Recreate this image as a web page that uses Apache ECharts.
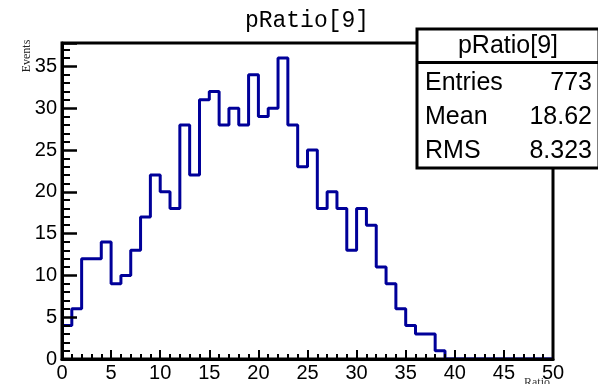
<!DOCTYPE html>
<html>
<head>
<meta charset="utf-8">
<script src="https://cdn.jsdelivr.net/npm/echarts@6/dist/echarts.min.js"></script>
<style>
html,body{margin:0;padding:0;background:#fff;}
#main{width:598px;height:384px;}
</style>
</head>
<body>
<div id="main"></div>
<script>
// Histogram pRatio[9]: 50 bins of width 1 from 0 to 50
var binStart = 0;
var binWidth = 1;
var counts = [4, 6, 12, 12, 14, 9, 10, 13, 17, 22,
              20, 18, 28, 22, 31, 32, 28, 30, 28, 34,
              29, 30, 36, 28, 23, 25, 18, 20, 18, 13,
              18, 16, 11, 9, 6, 4, 3, 3, 1, 0,
              0, 0, 0, 0, 0, 0, 0, 0, 0, 0];
var xTicks = [0, 5, 10, 15, 20, 25, 30, 35, 40, 45, 50];
var yTicks = [0, 5, 10, 15, 20, 25, 30, 35];
var histTitle = 'pRatio[9]';
var statNames = ['Entries', 'Mean', 'RMS'];
var statValues = ['773', '18.62', '8.323'];
var xTitle = 'Ratio';
var yTitle = 'Events';

var pts = [];
for (var i = 0; i < counts.length; i++) {
  pts.push([binStart + i * binWidth, counts[i]]);
}
pts.push([binStart + counts.length * binWidth, counts[counts.length - 1]]);

var chart = echarts.init(document.getElementById('main'), null, {renderer: 'canvas'});
var labelFont = 'Liberation Sans';

var graphics = [
  {type: 'text', z: 10,
   style: {text: histTitle, x: 307, y: 21, fill: '#000', font: '23px "Liberation Mono"', textAlign: 'center', textVerticalAlign: 'middle'}},
  {type: 'text', x: 27, y: 56, rotation: Math.PI / 2, z: 10,
   style: {text: yTitle, x: 0, y: 0, fill: '#222', font: '12px "Liberation Serif"', textAlign: 'center', textVerticalAlign: 'middle'}},
  {type: 'text', z: 10,
   style: {text: xTitle, x: 550, y: 377, fill: '#333', font: '12px "Liberation Serif"', textAlign: 'right', textVerticalAlign: 'top'}},
  {type: 'rect', z: 20, shape: {x: 417, y: 29, width: 182, height: 139},
   style: {fill: '#fff', stroke: '#000', lineWidth: 3}},
  {type: 'line', z: 21, shape: {x1: 417, y1: 62.5, x2: 599, y2: 62.5},
   style: {stroke: '#000', lineWidth: 3}},
  {type: 'text', z: 22,
   style: {text: histTitle, x: 508, y: 46, fill: '#000', font: '25px "Liberation Sans"', textAlign: 'center', textVerticalAlign: 'middle'}}
];
var rowY = [83, 117, 151];
for (var k = 0; k < statNames.length; k++) {
  graphics.push({type: 'text', z: 22,
    style: {text: statNames[k], x: 425, y: rowY[k], fill: '#000', font: '25px "Liberation Sans"', textAlign: 'left', textVerticalAlign: 'middle'}});
  graphics.push({type: 'text', z: 22,
    style: {text: statValues[k], x: 592, y: rowY[k], fill: '#000', font: '25px "Liberation Sans"', textAlign: 'right', textVerticalAlign: 'middle'}});
}

chart.setOption({
  animation: false,
  backgroundColor: '#fff',
  grid: {left: 62, right: 45, top: 43, bottom: 25, show: true, borderColor: '#000', borderWidth: 3, backgroundColor: 'transparent'},
  xAxis: {
    type: 'value', min: xTicks[0], max: xTicks[xTicks.length - 1], interval: 5, z: 5,
    axisLine: {show: true, onZero: false, lineStyle: {color: '#000', width: 3}},
    axisTick: {show: true, inside: true, length: 9, lineStyle: {color: '#000', width: 2}},
    minorTick: {show: true, splitNumber: 5, length: 5, lineStyle: {color: '#000', width: 2}},
    splitLine: {show: false},
    axisLabel: {color: '#000', fontFamily: labelFont, fontSize: 20, margin: 4,
      formatter: function (v) { return xTicks.indexOf(v) >= 0 ? String(v) : ''; }}
  },
  yAxis: {
    type: 'value', min: 0, max: 37.8, interval: 5, z: 5,
    axisLine: {show: true, onZero: false, lineStyle: {color: '#000', width: 3}},
    axisTick: {show: true, inside: true, length: 15, lineStyle: {color: '#000', width: 2.5}},
    minorTick: {show: true, splitNumber: 5, length: 8, lineStyle: {color: '#000', width: 2}},
    splitLine: {show: false},
    axisLabel: {color: '#000', fontFamily: labelFont, fontSize: 20, margin: 5, showMaxLabel: false,
      formatter: function (v) { return yTicks.indexOf(v) >= 0 ? String(v) : ''; }}
  },
  series: [{
    type: 'line', step: 'end', data: pts, showSymbol: false, z: 2,
    lineStyle: {color: '#000099', width: 3}, clip: true
  }],
  graphic: graphics
});
</script>
</body>
</html>
